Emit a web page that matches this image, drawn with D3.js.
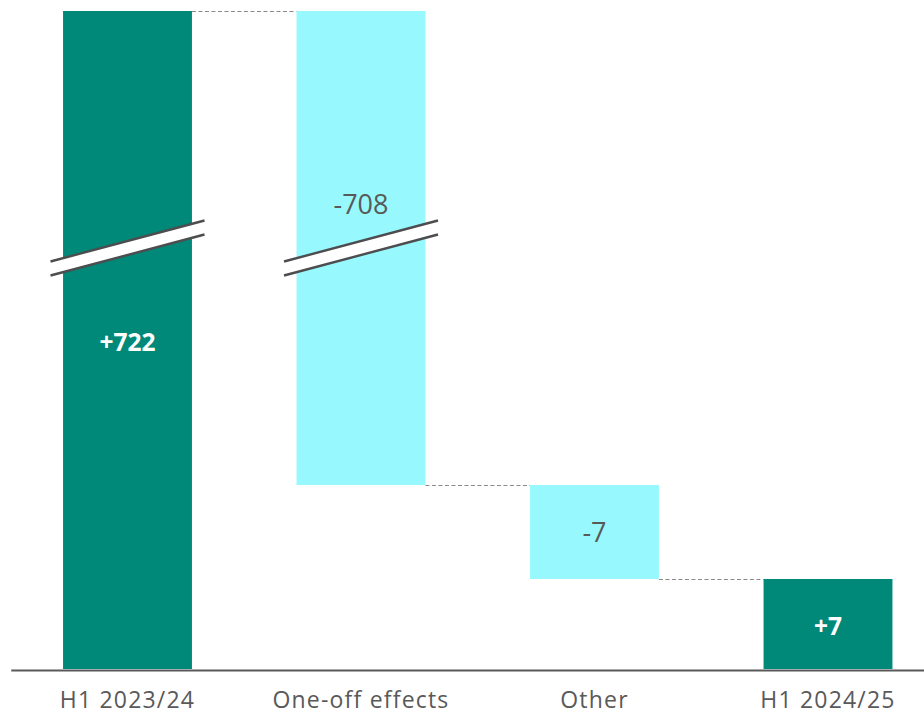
<!DOCTYPE html>
<html>
<head>
<meta charset="utf-8">
<script src="https://cdn.jsdelivr.net/npm/d3@7"></script>
<style>
  html, body { margin: 0; padding: 0; background: #fff; }
  svg { display: block; }
</style>
</head>
<body>
<svg id="chart" width="924" height="716"></svg>
<script>
// ---- data ----
const categories = ["H1 2023/24", "One-off effects", "Other", "H1 2024/25"];
const values = [722, -708, -7, 7];
const kinds = ["total", "delta", "delta", "total"];
const valueLabels = ["+722", "-708", "-7", "+7"];
// broken value axis: stops of the piecewise scale
const axisStops = [0, 7, 14, 722];

// ---- layout ----
const W = 924, H = 716;
const baseY = 669;
const svg = d3.select("#chart");

const x = d3.scaleBand()
  .domain(categories)
  .range([10.75, 944.75])
  .paddingInner(0.448)
  .paddingOuter(0.224);

const y = d3.scaleLinear()
  .domain(axisStops)
  .range([baseY, 579, 485, 11]);

// compute waterfall segments
let running = 0;
const bars = categories.map((c, i) => {
  let start, end;
  if (kinds[i] === "total") { start = 0; end = values[i]; running = values[i]; }
  else { start = running; end = running + values[i]; running = end; }
  return { cat: c, start, end, kind: kinds[i], label: valueLabels[i], value: values[i] };
});

const teal = "#008878", cyan = "#97F9FD", textGray = "#595959";

// connectors
const conn = svg.append("g");
for (let i = 0; i < bars.length - 1; i++) {
  const level = bars[i].end;
  conn.append("line")
    .attr("x1", x(bars[i].cat) + x.bandwidth())
    .attr("x2", x(bars[i + 1].cat))
    .attr("y1", y(level) + 0.5)
    .attr("y2", y(level) + 0.5)
    .attr("stroke", "#8a8a8a")
    .attr("stroke-width", 1)
    .attr("stroke-dasharray", "4,2.5");
}

// bars
svg.append("g").selectAll("rect").data(bars).join("rect")
  .attr("x", d => x(d.cat))
  .attr("width", x.bandwidth())
  .attr("y", d => y(Math.max(d.start, d.end)))
  .attr("height", d => Math.abs(y(d.start) - y(d.end)))
  .attr("fill", d => d.kind === "total" ? teal : cyan);

// axis break marks on bars spanning the break
const breakLow = axisStops[2];
bars.forEach(d => {
  const lo = Math.min(d.start, d.end), hi = Math.max(d.start, d.end);
  if (lo <= breakLow && hi > breakLow + 100) {
    const cx = x(d.cat) + x.bandwidth() / 2;
    const cy = (y(hi) + y(Math.max(lo, breakLow))) / 2;
    const hw = 77, rise = 20.5, gap = 7;
    const g = svg.append("g");
    g.append("polygon")
      .attr("points", [
        [cx - hw, cy - gap + rise], [cx + hw, cy - gap - rise],
        [cx + hw, cy + gap - rise], [cx - hw, cy + gap + rise]
      ].map(p => p.join(",")).join(" "))
      .attr("fill", "#fff");
    [-gap, gap].forEach(o => {
      g.append("line")
        .attr("x1", cx - hw).attr("y1", cy + o + rise)
        .attr("x2", cx + hw).attr("y2", cy + o - rise)
        .attr("stroke", "#4d4d4f").attr("stroke-width", 2.4);
    });
    d.broken = true;
  }
});

// value labels
svg.append("g").selectAll("text").data(bars).join("text")
  .attr("x", d => x(d.cat) + x.bandwidth() / 2)
  .attr("y", d => (y(d.start) + y(d.end)) / 2 - (d.broken && d.kind !== "total" ? 44 : 0))
  .attr("dy", d => d.kind === "total" ? "0.46em" : "0.36em")
  .attr("text-anchor", "middle")
  .attr("font-family", "'Open Sans', sans-serif")
  .attr("font-size", d => d.kind === "total" ? 24.5 : 27)
  .attr("font-weight", d => d.kind === "total" ? 700 : 400)
  .attr("fill", d => d.kind === "total" ? "#ffffff" : textGray)
  .text(d => d.label);

// x axis
const axis = svg.append("g")
  .attr("transform", `translate(0,${baseY + 1})`)
  .call(d3.axisBottom(x).tickSize(0).tickSizeOuter(0).tickPadding(22));
axis.select(".domain").attr("stroke", "#595959").attr("stroke-width", 2.2);
axis.selectAll("text")
  .attr("font-family", "'Open Sans', sans-serif")
  .attr("font-size", 23)
  .attr("letter-spacing", "1.2px")
  .attr("fill", textGray);
</script>
</body>
</html>
